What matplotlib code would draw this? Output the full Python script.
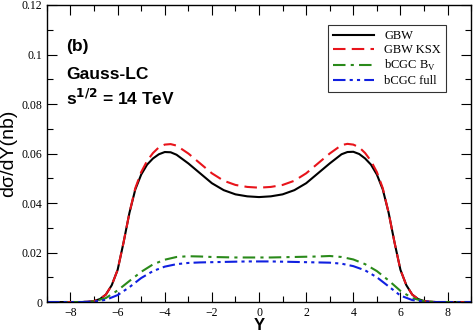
import matplotlib
matplotlib.use("Agg")
import matplotlib.pyplot as plt
from matplotlib.ticker import MultipleLocator, FuncFormatter

# rapidity grid for the GBW curves
y_fine = [-9, -8, -7.5, -7.25, -7, -6.75, -6.5, -6.25, -6, -5.75, -5.5, -5.25,
          -5, -4.75, -4.5, -4.25, -4, -3.75, -3.5, -3, -2.5, -2, -1.5, -1, -0.5,
          0, 0.5, 1, 1.5, 2, 2.5, 3, 3.5, 3.75, 4, 4.25, 4.5, 4.75, 5, 5.25,
          5.5, 5.75, 6, 6.25, 6.5, 6.75, 7, 7.25, 7.5, 8, 9]

gbw = [0, 0, 0, 0.0001, 0.0004, 0.0012, 0.003, 0.0068, 0.013, 0.024, 0.036, 0.0455,
       0.0515, 0.0555, 0.058, 0.0597, 0.0606, 0.0605, 0.0595, 0.056, 0.052, 0.048,
       0.0452, 0.0435, 0.0427,
       0.0424, 0.0427, 0.0435, 0.0452, 0.048, 0.052, 0.056, 0.0597, 0.0606, 0.0607,
       0.0598, 0.058, 0.0555, 0.0515, 0.0455, 0.036, 0.024, 0.013, 0.0068, 0.003,
       0.0012, 0.0004, 0.0001, 0, 0, 0]

gbw_ksx = [0, 0, 0, 0.0001, 0.0004, 0.0012, 0.003, 0.0068, 0.013, 0.024, 0.036, 0.046,
           0.0525, 0.057, 0.0602, 0.0625, 0.0636, 0.0638, 0.0632, 0.0600, 0.0560, 0.0520,
           0.0490, 0.0473, 0.0465,
           0.0462, 0.0465, 0.0473, 0.0490, 0.0520, 0.0560, 0.0600, 0.0634, 0.0639, 0.0636,
           0.0625, 0.0602, 0.057, 0.0525, 0.046, 0.036, 0.024, 0.013, 0.0068, 0.003,
           0.0012, 0.0004, 0.0001, 0, 0, 0]

# rapidity grid for the bCGC curves
y_cgc = [-9, -8, -7.5, -7, -6.5, -6, -5.5, -5, -4.5, -4, -3.5, -3, -2.5, -2, -1.5,
         -1, -0.5, 0, 0.5, 1, 1.5, 2, 2.5, 3, 3.5, 4, 4.5, 5, 5.5, 6, 6.5, 7,
         7.5, 8, 9]

bcgc_bv = [0, 0, 0, 0.0003, 0.0016, 0.0047, 0.0085, 0.0122, 0.0152, 0.0171, 0.0182,
           0.0185, 0.0184, 0.0182, 0.0181, 0.0180, 0.0180, 0.0180, 0.0180, 0.0181,
           0.0182, 0.0183, 0.0184, 0.0186, 0.0182, 0.0172, 0.0153, 0.0125, 0.0087,
           0.0045, 0.0016, 0.0003, 0, 0, 0]

bcgc_full = [0, 0, 0, 0.0002, 0.0009, 0.0028, 0.0060, 0.0097, 0.0125, 0.0143, 0.0153,
             0.0158, 0.0160, 0.0161, 0.0162, 0.0163, 0.0164, 0.0164, 0.0164, 0.0163,
             0.0162, 0.0161, 0.0160, 0.0159, 0.0155, 0.0145, 0.0128, 0.0100, 0.0063,
             0.0026, 0.0008, 0.0002, 0, 0, 0]

fig = plt.figure(figsize=(4.74, 3.33), dpi=100)
ax = fig.add_axes([0.099, 0.093, 0.895, 0.892])

ax.plot(y_fine, gbw, color="black", lw=1.5, label="GBW")
ax.plot(y_fine, gbw_ksx, color="#e8141b", lw=1.5, ls=(0, (6, 3)), label="GBW KSX")
ax.plot(y_cgc, bcgc_bv, color="#2a8a1a", lw=1.5, ls=(0, (6, 2.5, 1.5, 2.5)),
        label=r"bCGC B$_\mathregular{V}$")
ax.plot(y_cgc, bcgc_full, color="#1020e0", lw=1.5,
        ls=(0, (6, 2, 1.5, 2, 1.5, 2)), label="bCGC full")

ax.set_xlim(-9, 9)
ax.set_ylim(0, 0.12)
ax.xaxis.set_major_locator(MultipleLocator(2))
ax.xaxis.set_minor_locator(MultipleLocator(1))
ax.yaxis.set_major_locator(MultipleLocator(0.02))
ax.yaxis.set_minor_locator(MultipleLocator(0.01))
ax.yaxis.set_major_formatter(FuncFormatter(lambda v, p: "0" if abs(v) < 1e-9 else f"{v:g}"))
ax.tick_params(which="both", direction="in", top=True, right=True,
               labelsize=8.5, width=0.8)
ax.tick_params(which="major", length=7)
ax.tick_params(which="minor", length=4)
for lab in ax.get_xticklabels() + ax.get_yticklabels():
    lab.set_family("Liberation Serif")
for s in ax.spines.values():
    s.set_linewidth(1.0)

ax.set_xlabel("Y", fontsize=12, fontweight="bold", family="Liberation Sans", labelpad=-1)
ax.set_ylabel("dσ/dY(nb)", fontsize=14, family="Liberation Sans", labelpad=3)

ax.text(-8.2, 0.1015, "(b)", fontsize=12.5, fontweight="bold", family="Liberation Sans")
ax.text(-8.2, 0.0900, "Gauss-LC", fontsize=12.5, fontweight="bold", family="Liberation Sans")
ax.text(-8.2, 0.0795, r"s$^\mathbf{1/2}$ = 14 TeV", fontsize=12.5, fontweight="bold",
        family="Liberation Sans")

leg = ax.legend(loc="upper right", bbox_to_anchor=(0.941, 0.931),
                prop={"family": "Liberation Serif", "size": 9},
                frameon=True, fancybox=False, edgecolor="black",
                handlelength=3.3, handletextpad=0.8, borderpad=0.4,
                labelspacing=0.15, borderaxespad=0)
leg.get_frame().set_linewidth(0.8)

fig.savefig("out.png", dpi=100)
